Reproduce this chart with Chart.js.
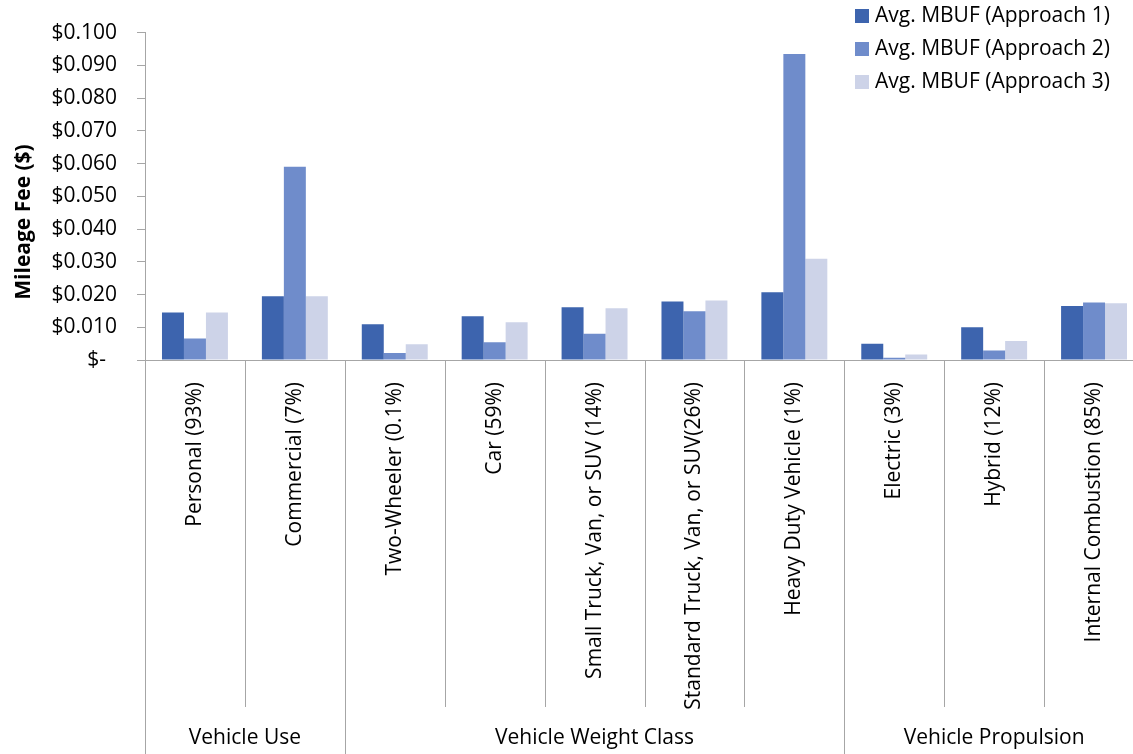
<!DOCTYPE html>
<html>
<head>
<meta charset="utf-8">
<script src="https://cdn.jsdelivr.net/npm/chart.js@4/dist/chart.umd.min.js"></script>
<style>
  html, body { margin: 0; padding: 0; background: #fff; overflow: hidden; }
  #wrap { width: 1150px; height: 754px; }
</style>
</head>
<body>
<div id="wrap"><canvas id="c" width="1150" height="754"></canvas></div>
<script>
// Vehicle categories and the group each block of them belongs to
const categories = [
  'Personal (93%)', 'Commercial (7%)',
  'Two-Wheeler (0.1%)', 'Car (59%)', 'Small Truck, Van, or SUV (14%)',
  'Standard Truck, Van, or SUV(26%)', 'Heavy Duty Vehicle (1%)',
  'Electric (3%)', 'Hybrid (12%)', 'Internal Combustion (85%)'
];
const groupNames = ['Vehicle Use', 'Vehicle Weight Class', 'Vehicle Propulsion'];
const groupSizes = [2, 5, 3];

// Average mileage-based user fee ($ per mile) for each approach
const seriesNames = ['Avg. MBUF (Approach 1)', 'Avg. MBUF (Approach 2)', 'Avg. MBUF (Approach 3)'];
const approach1 = [0.0145, 0.0195, 0.0109, 0.0134, 0.0161, 0.0179, 0.0207, 0.0050, 0.0100, 0.0165];
const approach2 = [0.0066, 0.0590, 0.0021, 0.0054, 0.0080, 0.0149, 0.0935, 0.0007, 0.0029, 0.0176];
const approach3 = [0.0145, 0.0195, 0.0048, 0.0115, 0.0158, 0.0182, 0.0309, 0.0017, 0.0058, 0.0173];

const yMin = 0, yMax = 0.1, yStep = 0.01;

const colors = ['#3D64AE', '#6F8CCB', '#CDD3E8'];
const axisGray = '#A6A6A6';
const FONT = '"Open Sans", Lato, sans-serif';
const FS = 21;

// Category separators below the axis and the group captions
const groupAxis = {
  id: 'groupAxis',
  afterDraw(chart) {
    const { ctx, chartArea: a, scales: { x } } = chart;
    const n = categories.length;
    const half = (x.getPixelForValue(1) - x.getPixelForValue(0)) / 2;
    const edge = i => (i < n ? x.getPixelForValue(i) - half : x.getPixelForValue(n - 1) + half);
    const groupEdges = new Set([0]);
    let acc = 0;
    groupSizes.forEach(s => { acc += s; groupEdges.add(acc); });
    ctx.save();
    ctx.strokeStyle = axisGray;
    ctx.lineWidth = 1;
    for (let i = 0; i <= n; i++) {
      const px = Math.round(edge(i)) + 0.5;
      ctx.beginPath();
      ctx.moveTo(px, a.bottom);
      ctx.lineTo(px, groupEdges.has(i) ? chart.height : a.bottom + 347);
      ctx.stroke();
    }
    ctx.fillStyle = '#000';
    ctx.font = FS + 'px ' + FONT;
    ctx.textAlign = 'center';
    ctx.textBaseline = 'middle';
    let start = 0;
    groupNames.forEach((g, k) => {
      const end = start + groupSizes[k];
      ctx.fillText(g, (edge(start) + edge(end)) / 2, 738);
      start = end;
    });
    ctx.restore();
  }
};

// Axis title and the series key
const extras = {
  id: 'extras',
  afterDraw(chart) {
    const { ctx } = chart;
    ctx.save();
    ctx.fillStyle = '#000';
    ctx.font = 'bold ' + FS + 'px ' + FONT;
    ctx.textAlign = 'center';
    ctx.textBaseline = 'middle';
    ctx.translate(24, 222);
    ctx.rotate(-Math.PI / 2);
    ctx.fillText('Mileage Fee ($)', 0, 0);
    ctx.restore();

    ctx.save();
    ctx.font = FS + 'px ' + FONT;
    ctx.textAlign = 'left';
    ctx.textBaseline = 'middle';
    chart.data.datasets.forEach((ds, i) => {
      const cy = 16 + i * 33;
      ctx.fillStyle = ds.backgroundColor;
      ctx.fillRect(855, cy - 7, 14, 14);
      ctx.fillStyle = '#000';
      ctx.fillText(ds.label, 875, cy);
    });
    ctx.restore();
  }
};

new Chart(document.getElementById('c'), {
  type: 'bar',
  data: {
    labels: categories,
    datasets: [approach1, approach2, approach3].map((d, i) => ({
      label: seriesNames[i],
      data: d,
      backgroundColor: colors[i],
      borderWidth: 0,
      categoryPercentage: 0.66,
      barPercentage: 1.0
    }))
  },
  options: {
    responsive: false,
    animation: false,
    devicePixelRatio: 1,
    layout: { padding: { top: 31, right: 6, left: 0, bottom: 0 } },
    plugins: { legend: { display: false }, tooltip: { enabled: false } },
    scales: {
      y: {
        min: yMin, max: yMax,
        afterFit(s) { s.width = 145; },
        border: { color: axisGray, width: 1 },
        grid: { drawOnChartArea: false, drawTicks: true, tickLength: 8, color: axisGray },
        ticks: {
          stepSize: yStep,
          padding: 20,
          color: '#000',
          font: { family: FONT, size: FS },
          callback: v => (Math.abs(v) < 1e-9 ? '$-  ' : '$' + v.toFixed(3))
        }
      },
      x: {
        afterFit(s) { s.height = 394; },
        border: { color: axisGray, width: 1 },
        grid: { display: false },
        ticks: {
          autoSkip: false,
          minRotation: 90, maxRotation: 90,
          padding: 14,
          color: '#000',
          font: { family: FONT, size: FS }
        }
      }
    }
  },
  plugins: [groupAxis, extras]
});
</script>
</body>
</html>
